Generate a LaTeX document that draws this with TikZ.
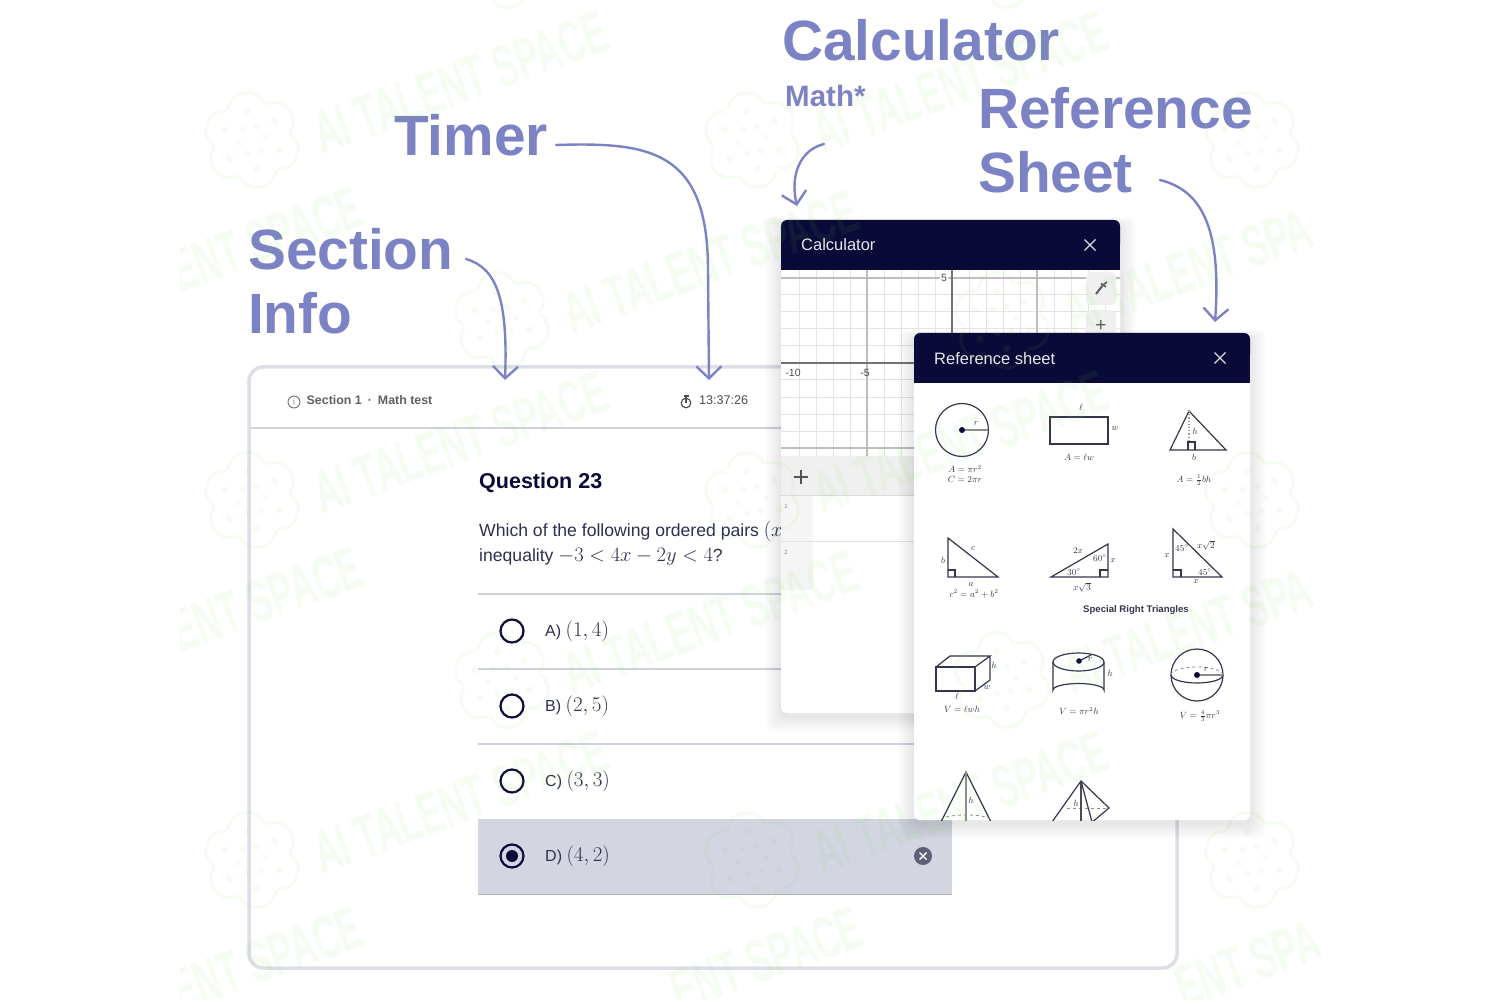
\documentclass[tikz,border=0pt]{standalone}
\usepackage{fix-cm}
\usepackage{fontspec}
\setmainfont{Liberation Sans}
\usetikzlibrary{arrows.meta}

\definecolor{callout}{HTML}{7C83C4}
\definecolor{navy}{HTML}{0A0A38}
\definecolor{rowgray}{HTML}{D3D5E1}
\definecolor{rulegray}{HTML}{CFD1DD}
\definecolor{cardgray}{HTML}{DDDEE6}
\definecolor{gridminor}{HTML}{E4E4E4}
\definecolor{gridmajor}{HTML}{BEBEBE}
\definecolor{ink}{HTML}{2E3050}
\definecolor{formula}{HTML}{34364E}
\definecolor{wmark}{HTML}{79DE45}

\tikzset{
    callouttext/.style={text=callout, font=\bfseries\fontsize{56.8}{60}\selectfont, anchor=base west, inner sep=0},
    calloutarrow/.style={draw=callout, line width=2.4, line cap=round, -{Straight Barb[length=12,width=25,line width=2.4]}},
    radio/.style={draw=navy, line width=2.2},
    choicetext/.style={text=ink, font=\fontsize{16}{18}\selectfont, anchor=base west, inner sep=0},
    questiontext/.style={text=ink, font=\fontsize{17.6}{20}\selectfont, anchor=base west, inner sep=0},
    windowtitle/.style={text=white!90!navy, font=\fontsize{16.5}{18}\selectfont, anchor=base west, inner sep=0},
    figline/.style={draw=formula, line width=1.2},
    figtext/.style={text=formula, font=\fontsize{9}{10}\selectfont, inner sep=0},
    axisnum/.style={text=black!70, font=\fontsize{10.5}{12}\selectfont, inner sep=0},
    wmarktext/.style={text=wmark, font=\bfseries\fontsize{60}{62}\selectfont, inner sep=0},
}

\newcommand{\softshadow}[4]{
    \foreach \s in {1,...,8}
        \fill[black, opacity=.012, rounded corners=7] (#1-2*\s,#2-\s+5) rectangle (#3+2*\s,#4+2*\s+3);
}

\begin{document}
\begin{tikzpicture}[x=1pt, y=-1pt]
    \useasboundingbox[fill=white] (0,0) rectangle (1500,1000);

    %%main card
    \draw[cardgray, line width=3.5, fill=white, rounded corners=14] (249,367) rectangle (1177,968);
    \draw[rulegray, line width=1.5] (251,428) -- (785,428);

    %%header of the card
    \draw[black!55, line width=.9] (294,402) circle (6);
    \node[inner sep=0, text=black!55, font=\fontsize{8}{9}\selectfont] (infoicon) at (294,402) {i};
    \node[anchor=base west, inner sep=0, text=black!62, font=\bfseries\fontsize{12.4}{14}\selectfont] (sectioninfo) at (306.5,405) {Section 1\hspace{6pt}·\hspace{6pt}Math test};
    \draw[black!70, line width=1.1] (686,403) circle (4.8);
    \draw[black!70, line width=1.1] (683.5,396) -- (688.5,396) (686,396) -- (686,403);
    \node[anchor=base west, inner sep=0, text=black!70, font=\fontsize{12.6}{14}\selectfont] (timertext) at (699,405) {13:37:26};

    %%question
    \node[anchor=base west, inner sep=0, text=navy, font=\bfseries\fontsize{21.5}{24}\selectfont] (questiontitle) at (479,488) {Question 23};
    \node[questiontext] (questionone) at (479,536) {Which of the following ordered pairs \fontsize{20.5}{22}\selectfont$(x$};
    \node[questiontext] (questiontwo) at (479,561) {inequality \fontsize{20.5}{22}\selectfont$-3<4x-2y<4$\fontsize{17.6}{20}\selectfont?};

    %%choices
    \foreach \y in {594,669,744}
        \draw[rulegray, line width=1.2] (478,\y) -- (952,\y);
    \fill[rowgray] (478,819) rectangle (952,894);
    \draw[rulegray!85!black, line width=1] (478,894) -- (952,894);

    \foreach \name/\y/\val in {A/631/{(1,4)}, B/706/{(2,5)}, C/781/{(3,3)}, D/856/{(4,2)}}{
        \draw[radio] (512,\y) circle (11.5);
        \node[choicetext] (choice\name) at (545,\y+5.5) {\name) \fontsize{21}{23}\selectfont$\val$};
    }
    \fill[navy] (512,856) circle (6);
    \fill[black!10!navy!65!white] (923,856) circle (9);
    \draw[white, line width=1.4] (919.5,852.5) -- (926.5,859.5) (926.5,852.5) -- (919.5,859.5);

    %%calculator window
    \softshadow{781}{220}{1120}{713}
    \fill[white, rounded corners=6] (781,230) rectangle (1120,713);
    \foreach \k in {0,...,19}
        \draw[gridminor, line width=1] (799+17*\k,270) -- (799+17*\k,456);
    \foreach \k in {0,...,10}
        \draw[gridminor, line width=1] (781,278+17*\k) -- (1120,278+17*\k);
    \foreach \x in {867,1037}
        \draw[gridmajor, line width=1.2] (\x,270) -- (\x,456);
    \foreach \y in {278,448}
        \draw[gridmajor, line width=1.2] (781,\y) -- (1120,\y);
    \draw[black!55, line width=1.6] (952,270) -- (952,456);
    \draw[black!55, line width=1.6] (781,363) -- (1120,363);
    \node[axisnum, fill=white, inner sep=1] (numfive) at (944,278) {5};
    \node[axisnum] (numten) at (793,373) {-10};
    \node[axisnum] (numminus) at (865,373) {-5};

    \fill[black!6, rounded corners=5] (1086,272) rectangle (1116,305);
    \fill[black!6, rounded corners=5] (1086,310) rectangle (1116,345);
    \draw[black!65, line width=2] (1096,294) -- (1103,285);
    \draw[black!65, line width=1.6] (1101,283.5) -- (1106,287) (1103,285) -- (1107,282);
    \node[inner sep=0, text=black!65, font=\fontsize{19}{20}\selectfont] (zoomplus) at (1101,326) {+};

    \fill[black!6] (781,456) rectangle (1120,495);
    \draw[black!14, line width=1] (781,495) -- (1120,495);
    \draw[black!68, line width=2.4] (794,477) -- (808,477) (801,470) -- (801,484);
    \fill[black!4] (781,496) rectangle (813,590);
    \draw[black!11, line width=1] (781,541) -- (1120,541);
    \node[inner sep=0, text=black!45, font=\fontsize{6}{7}\selectfont] (rowone) at (786,506) {1};
    \node[inner sep=0, text=black!45, font=\fontsize{6}{7}\selectfont] (rowtwo) at (786,552) {2};

    \fill[navy, rounded corners=6] (781,220) rectangle (1120,250);
    \fill[navy] (781,235) rectangle (1120,270);
    \node[windowtitle] (calctitle) at (801,251) {Calculator};
    \draw[white!85!navy, line width=1.3] (1084.5,239.5) -- (1095.5,250.5) (1095.5,239.5) -- (1084.5,250.5);

    %%reference sheet window
    \softshadow{914}{333}{1250}{820}
    \fill[white, rounded corners=6] (914,345) rectangle (1250,820);
    \fill[navy, rounded corners=6] (914,333) rectangle (1250,360);
    \fill[navy] (914,350) rectangle (1250,383);
    \node[windowtitle] (sheettitle) at (934,365) {Reference sheet};
    \draw[white!85!navy, line width=1.3] (1214.5,352.5) -- (1225.5,363.5) (1225.5,352.5) -- (1214.5,363.5);

    %%circle
    \draw[figline] (962,430) circle (26.5);
    \draw[black!45, line width=1.6] (962,430) -- (988,430);
    \fill[navy] (962,430) circle (3);
    \node[figtext] (circr) at (976,424) {$r$};
    \node[figtext, align=center] (circf) at (965,474) {$A=\pi r^2$\\$C=2\pi r$};

    %%rectangle
    \draw[figline] (1050,417) rectangle (1108,444);
    \node[figtext] (rectl) at (1081,407) {$\ell$};
    \node[figtext] (rectw) at (1115,429) {$w$};
    \node[figtext] (rectf) at (1079,457) {$A=\ell w$};

    %%triangle
    \draw[figline] (1170,450) -- (1189,411) -- (1226,450) -- cycle;
    \draw[black!40, line width=1.2, dotted] (1189,411) -- (1189,442);
    \draw[figline] (1188,450) -- (1188,442) -- (1195,442) -- (1195,450);
    \node[figtext] (trih) at (1195,431) {$h$};
    \node[figtext] (trib) at (1194,457) {$b$};
    \node[figtext] (trif) at (1194,480) {$A=\frac{1}{2}bh$};

    %%right triangle
    \draw[figline] (948,538) -- (948,577) -- (998,577) -- cycle;
    \draw[figline] (948,570) -- (955,570) -- (955,577);
    \node[figtext] (pytb) at (943,560) {$b$};
    \node[figtext] (pytc) at (973,549) {$c$};
    \node[figtext] (pyta) at (971,585) {$a$};
    \node[figtext] (pytf) at (974,594) {$c^2=a^2+b^2$};

    %%30 60 triangle
    \draw[figline] (1051,577) -- (1108,577) -- (1108,544) -- cycle;
    \draw[figline] (1100,577) -- (1100,570) -- (1108,570);
    \node[figtext] (thirtya) at (1078,551) {$2x$};
    \node[figtext] (thirtyb) at (1100,558) {$60^\circ$};
    \node[figtext] (thirtyc) at (1113,561) {$x$};
    \node[figtext] (thirtyd) at (1074,572) {$30^\circ$};
    \node[figtext] (thirtye) at (1082,587) {$x\sqrt{3}$};

    %%45 triangle
    \draw[figline] (1173,529) -- (1173,577) -- (1222,577) -- cycle;
    \draw[figline] (1173,570) -- (1181,570) -- (1181,577);
    \node[figtext] (fortya) at (1182,548) {$45^\circ$};
    \node[figtext] (fortyb) at (1206,545) {$x\sqrt{2}$};
    \node[figtext] (fortyc) at (1167,556) {$x$};
    \node[figtext] (fortyd) at (1205,572) {$45^\circ$};
    \node[figtext] (fortye) at (1196,582) {$x$};
    \node[inner sep=0, text=formula, font=\bfseries\fontsize{9.6}{11}\selectfont] (specialright) at (1136,610) {Special Right Triangles};

    %%box
    \draw[figline] (936,667) rectangle (975,691);
    \draw[figline] (936,667) -- (950,656) -- (990,656) -- (975,667) (990,656) -- (990,680) -- (975,691);
    \node[figtext] (boxh) at (994,665) {$h$};
    \node[figtext] (boxw) at (987,688) {$w$};
    \node[figtext] (boxl) at (957,696) {$\ell$};
    \node[figtext] (boxf) at (962,709) {$V=\ell wh$};

    %%cylinder
    \draw[figline] (1078.5,662) ellipse (25.5 and 9);
    \draw[figline] (1053,662) -- (1053,690) arc (180:0:25.5 and -6.5) -- (1104,662);
    \draw[figline] (1079,661) -- (1091,655);
    \fill[navy] (1079,661) circle (2.8);
    \node[figtext] (cylr) at (1090,660) {$r$};
    \node[figtext] (cylh) at (1110,673) {$h$};
    \node[figtext] (cylf) at (1079,711) {$V=\pi r^2h$};

    %%sphere
    \draw[figline] (1197,675) circle (26);
    \draw[figline] (1171,675) arc (180:360:26 and -8);
    \draw[black!45, line width=.8, dashed] (1171,675) arc (180:360:26 and 8);
    \draw[black!45, line width=1.6] (1197,675) -- (1223,675);
    \fill[navy] (1197,675) circle (3);
    \node[figtext] (sphr) at (1206,670) {$r$};
    \node[figtext] (sphf) at (1200,716) {$V=\frac{4}{3}\pi r^3$};

    %%cone and pyramid, cut off by the window
    \begin{scope}
        \clip (914,760) rectangle (1250,820);
        \draw[figline] (941,822) -- (966,772) -- (991,822);
        \draw[black!45, line width=1.6] (966,772) -- (966,822);
        \draw[black!45, line width=.8, dashed] (941,820) arc (180:360:25 and 5);
        \node[figtext] (coneh) at (971,800) {$h$};
        \draw[figline] (1052,822) -- (1081,781) -- (1109,808) -- (1090,824);
        \draw[black!45, line width=.8, dashed] (1067,808) -- (1109,808);
        \draw[black!70, line width=1.6] (1081,781) -- (1081,822);
        \draw[figline] (1081,781) -- (1092,822);
        \node[figtext] (pyrh) at (1076,803) {$h$};
    \end{scope}

    %%callouts
    \node[callouttext] (calclabel) at (782,61) {Calculator};
    \node[callouttext, font=\bfseries\fontsize{29.5}{32}\selectfont] (mathlabel) at (785,106.5) {Math*};
    \node[callouttext] (reflabel) at (978,128.5) {Reference};
    \node[callouttext] (sheetlabel) at (978,193) {Sheet};
    \node[callouttext] (timerlabel) at (394,156) {Timer};
    \node[callouttext] (sectionlabel) at (248,270) {Section};
    \node[callouttext] (infolabel) at (248,334) {Info};

    \coordinate (sectionfrom) at (466,259);
    \coordinate (sectionto) at (505,380);
    \coordinate (timerfrom) at (556,145);
    \coordinate (timerto) at (709,380);
    \coordinate (calcfrom) at (824,144);
    \coordinate (calcto) at (797,206);
    \coordinate (sheetfrom) at (1160,180);
    \coordinate (sheetto) at (1215,322);

    %%arrow 1
    \draw[calloutarrow] (sectionfrom) .. controls (497,268) and (508,300) .. (sectionto);
    %%arrow 2
    \draw[calloutarrow] (timerfrom) .. controls (650,142) and (708,150) .. (708,270) -- (timerto);
    %%arrow 3
    \draw[calloutarrow] (calcfrom) .. controls (800,150) and (790,175) .. (calcto);
    %%arrow 4
    \draw[calloutarrow] (sheetfrom) .. controls (1200,190) and (1222,225) .. (sheetto);

    %%watermark
    \begin{scope}[opacity=.075]
        \clip (180,0) rectangle (1320,1000);
        \foreach \x/\y [count=\c] in {315/135,815/135,315/495,815/495,315/855,815/855,565/315,565/675}
            \node[wmarktext, rotate=20, xscale=.585, anchor=west] (wmfull\c) at (\x,\y) {AI TALENT SPACE};
        \foreach \x/\y [count=\c] in {1065/315,1065/675}
            \node[wmarktext, rotate=20, xscale=.585, anchor=west] (wmright\c) at (\x,\y) {AI TALENT SPA};
        \foreach \x/\y [count=\c] in {360/205,360/565,360/925,860/925}
            \node[wmarktext, rotate=20, xscale=.585, anchor=east] (wmleft\c) at (\x,\y) {ENT SPACE};
        \node[wmarktext, rotate=20, xscale=.585, anchor=east] (wmcorner) at (1318,938) {ENT SPA};
        \foreach \x/\y in {252/140,752/140,1252/140,252/500,752/500,1252/500,252/860,752/860,1252/860,
                           502/320,1002/320,502/680,1002/680,502/-40,1002/-40}{
            \foreach \a in {20,80,...,320}{
                \draw[wmark, line width=3] (\x,\y) ++(\a:29) ++(\a-75:19) arc (\a-75:\a+75:19);
                \fill[wmark] (\x,\y) ++(\a:29) circle (3.5);
                \fill[wmark] (\x,\y) ++(\a+30:14) circle (3);
            }
        }
    \end{scope}
\end{tikzpicture}
\end{document}
